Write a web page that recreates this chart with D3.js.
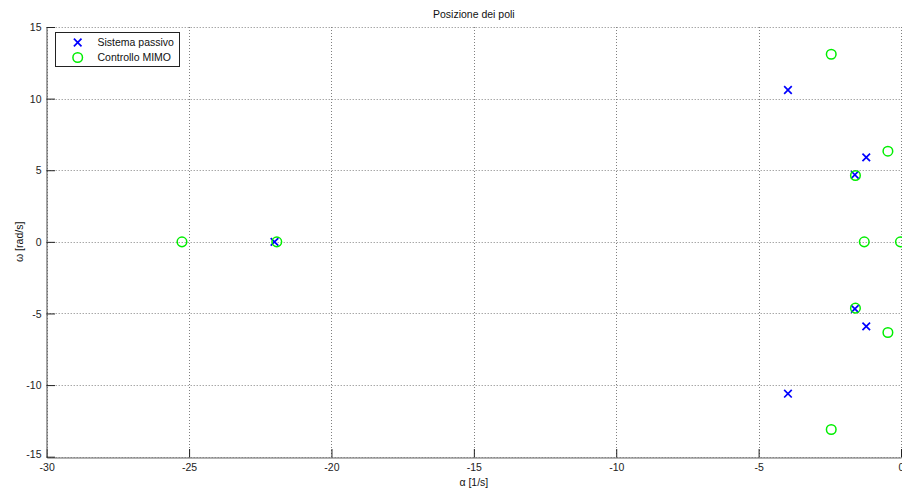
<!DOCTYPE html>
<html>
<head>
<meta charset="utf-8">
<script src="https://cdn.jsdelivr.net/npm/d3@7/dist/d3.min.js"></script>
<style>
  html, body { margin: 0; padding: 0; background: #fff; }
  svg { display: block; font-family: "Liberation Sans", Arial, Helvetica, sans-serif; }
</style>
</head>
<body>
<svg id="chart" width="902" height="490"></svg>
<script>
// Data
const xTicks = [-30, -25, -20, -15, -10, -5, 0];
const yTicks = [-15, -10, -5, 0, 5, 10, 15];
const passiveRe = [-3.97, -1.22, -1.62, -22.0, -1.62, -1.22, -3.97];
const passiveIm = [10.6, 5.9, 4.68, 0, -4.68, -5.9, -10.6];
const mimoRe = [-2.45, -0.46, -1.6, -1.29, -0.02, -25.25, -21.92, -1.6, -0.46, -2.45];
const mimoIm = [13.1, 6.33, 4.63, 0, 0, 0, 0, -4.63, -6.33, -13.1];
const legendLabels = ["Sistema passivo", "Controllo MIMO"];
const titleText = "Posizione dei poli";
const xLabel = "\u03b1 [1/s]";
const yLabel = "\u03c9 [rad/s]";

const svg = d3.select("#chart");
const m = { left: 46.7, right: 901, top: 27, bottom: 456.7 };
const x = d3.scaleLinear().domain([-30, 0]).range([m.left, m.right]);
const y = d3.scaleLinear().domain([-15, 15]).range([m.bottom, m.top]);

const fontSize = 10.5;
const fmt = d => String(d);

// Grid
const grid = svg.append("g").attr("stroke", "#808080").attr("stroke-width", 1).attr("stroke-dasharray", "1,2");
grid.selectAll("line.v").data(xTicks).enter().append("line")
  .attr("x1", d => Math.round(x(d)) + 0.5).attr("x2", d => Math.round(x(d)) + 0.5)
  .attr("y1", m.top).attr("y2", m.bottom);
grid.selectAll("line.h").data(yTicks).enter().append("line")
  .attr("y1", d => Math.round(y(d)) + 0.5).attr("y2", d => Math.round(y(d)) + 0.5)
  .attr("x1", m.left).attr("x2", m.right);

// Axes
const tickLen = 8.5;
const xAxis = d3.axisBottom(x).tickValues(xTicks).tickSizeInner(-tickLen).tickSizeOuter(0).tickPadding(6).tickFormat(fmt);
const yAxis = d3.axisLeft(y).tickValues(yTicks).tickSizeInner(-tickLen).tickSizeOuter(0).tickPadding(5).tickFormat(fmt);

const gx = svg.append("g").attr("transform", `translate(0,${Math.round(m.bottom) + 0.5})`).call(xAxis);
const gy = svg.append("g").attr("transform", `translate(${Math.round(m.left) - 0.5},0)`).call(yAxis);
[gx, gy].forEach(g => {
  g.select(".domain").attr("stroke", "#666").attr("stroke-width", 1.2);
  g.selectAll(".tick line").attr("stroke", "#222");
  g.selectAll("text").attr("font-size", fontSize).attr("fill", "#222").attr("font-family", "Liberation Sans, Arial, sans-serif");
});
gx.selectAll(".tick text").attr("dy", "0.71em");
gy.selectAll(".tick text").attr("dy", "0.35em");
gy.selectAll(".tick text").filter(d => d === -15).attr("dy", "0.1em");

// Title and labels
svg.append("text").attr("x", (m.left + m.right) / 2).attr("y", 18).attr("text-anchor", "middle")
  .attr("font-size", fontSize).attr("fill", "#111").text(titleText);
svg.append("text").attr("x", (m.left + m.right) / 2).attr("y", 486).attr("text-anchor", "middle")
  .attr("font-size", fontSize).attr("fill", "#111").text(xLabel);
svg.append("text").attr("transform", `translate(23,${(m.top + m.bottom) / 2}) rotate(-90)`).attr("text-anchor", "middle")
  .attr("font-size", fontSize).attr("fill", "#111").text(yLabel);

// Markers
const cross = (g, cx, cy, s) => {
  g.append("path").attr("d", `M${cx - s},${cy - s}L${cx + s},${cy + s}M${cx - s},${cy + s}L${cx + s},${cy - s}`)
    .attr("stroke", "#0000ff").attr("stroke-width", 1.7).attr("fill", "none");
};
const circ = (g, cx, cy, r) => {
  g.append("circle").attr("cx", cx).attr("cy", cy).attr("r", r)
    .attr("stroke", "#00ee00").attr("stroke-width", 1.5).attr("fill", "none");
};

const pts = svg.append("g");
passiveRe.forEach((re, i) => cross(pts, x(re), y(passiveIm[i]), 3.8));
mimoRe.forEach((re, i) => circ(pts, x(re), y(mimoIm[i]), 4.8));

// Legend
const lg = svg.append("g");
lg.append("rect").attr("x", 55.5).attr("y", 32.5).attr("width", 124).attr("height", 34)
  .attr("fill", "#fff").attr("stroke", "#222").attr("stroke-width", 1);
cross(lg, 77.7, 42.5, 3.8);
circ(lg, 77.7, 57.5, 4.8);
lg.append("text").attr("x", 97.5).attr("y", 42.5).attr("dy", "0.35em").attr("font-size", fontSize).attr("fill", "#111").text(legendLabels[0]);
lg.append("text").attr("x", 97.5).attr("y", 57.5).attr("dy", "0.35em").attr("font-size", fontSize).attr("fill", "#111").text(legendLabels[1]);
</script>
</body>
</html>
